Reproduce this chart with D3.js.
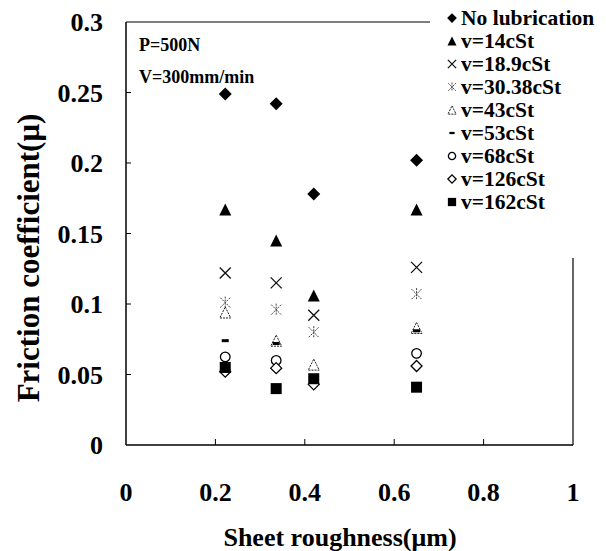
<!DOCTYPE html>
<html lang='en'>
	<head>
		<title>Friction coefficient</title>
		<meta charset=utf-8>
		<script src="https://cdn.jsdelivr.net/npm/d3@7"></script>
		<style>
			body {
				margin: 0;
				background-color: white;
			}
			text {
				font-family: "Liberation Serif", "Times New Roman", serif;
				font-weight: bold;
				fill: black;
			}
		</style>
	</head>
	<body>
		<svg id='chart' width="606" height="551"></svg>
	</body>

	<script>
		// data
		const roughness = [0.222, 0.336, 0.42, 0.65];
		const noLub  = [0.249, 0.242, 0.178, 0.202];
		const v14    = [0.167, 0.145, 0.106, 0.167];
		const v18_9  = [0.122, 0.115, 0.092, 0.126];
		const v30_38 = [0.101, 0.096, 0.080, 0.107];
		const v43    = [0.094, 0.074, 0.057, 0.083];
		const v53    = [0.074, 0.072, null, 0.081];
		const v68    = [0.0625, 0.060, null, 0.065];
		const v126   = [0.052, 0.0545, 0.043, 0.056];
		const v162   = [0.055, 0.040, 0.047, 0.041];

		const seriesNames = ['No lubrication', 'v=14cSt', 'v=18.9cSt', 'v=30.38cSt', 'v=43cSt', 'v=53cSt', 'v=68cSt', 'v=126cSt', 'v=162cSt'];
		const seriesValues = [noLub, v14, v18_9, v30_38, v43, v53, v68, v126, v162];
		const markerKinds = ['diamondFill', 'triFill', 'cross', 'star', 'triOpen', 'dash', 'circle', 'diamondOpen', 'square'];

		const xTicks = [0, 0.2, 0.4, 0.6, 0.8, 1];
		const yTicks = [0, 0.05, 0.1, 0.15, 0.2, 0.25, 0.3];

		const svg = d3.select('#chart');
		const x = d3.scaleLinear().domain([0, 1]).range([126, 573]);
		const y = d3.scaleLinear().domain([0, 0.3]).range([445, 22]);

		// marker drawing, s = scale
		function marker(g, kind, s) {
			let h;
			switch (kind) {
				case 'diamondFill':
					h = 6.5 * s;
					g.append('path').attr('d', `M0,${-h}L${h},0L0,${h}L${-h},0Z`).attr('fill', 'black');
					break;
				case 'diamondOpen':
					h = 5.5 * s;
					g.append('path').attr('d', `M0,${-h}L${h},0L0,${h}L${-h},0Z`).attr('fill', 'white').attr('stroke', 'black').attr('stroke-width', 1.3);
					break;
				case 'triFill':
					h = 6 * s;
					g.append('path').attr('d', `M0,${-h}L${h},${h}L${-h},${h}Z`).attr('fill', 'black');
					break;
				case 'triOpen':
					h = 5.5 * s;
					g.append('path').attr('d', `M0,${-h}L${h},${h}L${-h},${h}Z`).attr('fill', 'none').attr('stroke', '#222').attr('stroke-width', 1).attr('stroke-dasharray', '2,1');
					break;
				case 'cross':
					h = 5.5 * s;
					g.append('path').attr('d', `M${-h},${-h}L${h},${h}M${-h},${h}L${h},${-h}`).attr('stroke', '#111').attr('stroke-width', 1.3);
					break;
				case 'star':
					h = 5 * s;
					g.append('path').attr('d', `M${-h},${-h}L${h},${h}M${-h},${h}L${h},${-h}M0,${-h * 1.2}L0,${h * 1.2}`).attr('stroke', '#444').attr('stroke-width', 1).attr('stroke-dasharray', '2,1');
					break;
				case 'dash':
					g.append('rect').attr('x', -3.5 * s).attr('y', -1.5 * s).attr('width', 7 * s).attr('height', 3 * s).attr('fill', 'black');
					break;
				case 'circle':
					g.append('circle').attr('r', 4.8 * s).attr('fill', 'white').attr('stroke', 'black').attr('stroke-width', 1.3);
					break;
				case 'square':
					h = 5.5 * s;
					g.append('rect').attr('x', -h).attr('y', -h).attr('width', 2 * h).attr('height', 2 * h).attr('fill', 'black');
					break;
			}
		}

		// frame: left and bottom axes, partial top and right borders
		svg.append('line').attr('x1', x(0)).attr('y1', y(0.3)).attr('x2', x(0)).attr('y2', y(0)).attr('stroke', 'black').attr('stroke-width', 1.5);
		svg.append('line').attr('x1', x(0)).attr('y1', y(0)).attr('x2', x(1)).attr('y2', y(0)).attr('stroke', 'black').attr('stroke-width', 1.5);
		svg.append('line').attr('x1', x(0)).attr('y1', y(0.3)).attr('x2', 430).attr('y2', y(0.3)).attr('stroke', 'black').attr('stroke-width', 1.2);
		svg.append('line').attr('x1', x(1)).attr('y1', 258).attr('x2', x(1)).attr('y2', y(0)).attr('stroke', 'black').attr('stroke-width', 1.2);

		// y ticks and labels
		yTicks.forEach(function(t) {
			if (t > 0 && t < 0.3) {
				svg.append('line').attr('x1', x(0)).attr('x2', x(0) + 5).attr('y1', y(t)).attr('y2', y(t)).attr('stroke', 'black');
			}
			svg.append('text').attr('x', 103).attr('y', y(t) + 9).attr('text-anchor', 'end').style('font-size', '26px').text(t);
		});

		// x ticks and labels
		xTicks.forEach(function(t) {
			if (t > 0 && t < 1) {
				svg.append('line').attr('x1', x(t)).attr('x2', x(t)).attr('y1', y(0)).attr('y2', y(0) - 6).attr('stroke', 'black');
			}
			svg.append('text').attr('x', x(t)).attr('y', 501).attr('text-anchor', 'middle').style('font-size', '26px').text(t);
		});

		// axis titles
		svg.append('text').attr('x', 340).attr('y', 546).attr('text-anchor', 'middle').style('font-size', '26px').text('Sheet roughness(μm)');
		svg.append('text').attr('transform', 'translate(39,258) rotate(-90)').attr('text-anchor', 'middle').style('font-size', '31px').text('Friction coefficient(μ)');

		// conditions
		svg.append('text').attr('x', 139).attr('y', 51).style('font-size', '18px').text('P=500N');
		svg.append('text').attr('x', 139).attr('y', 83).style('font-size', '18px').text('V=300mm/min');

		// points
		seriesValues.forEach(function(vals, i) {
			vals.forEach(function(v, j) {
				if (v === null) return;
				const g = svg.append('g').attr('transform', 'translate(' + x(roughness[j]) + ',' + y(v) + ')');
				marker(g, markerKinds[i], 1);
			});
		});

		// legend
		seriesNames.forEach(function(name, i) {
			const ly = 18 + i * 23;
			const g = svg.append('g').attr('transform', 'translate(452,' + ly + ')');
			marker(g, markerKinds[i], 0.75);
			svg.append('text').attr('x', 461).attr('y', ly + 7).style('font-size', '21.5px').text(name);
		});
	</script>
</html>
